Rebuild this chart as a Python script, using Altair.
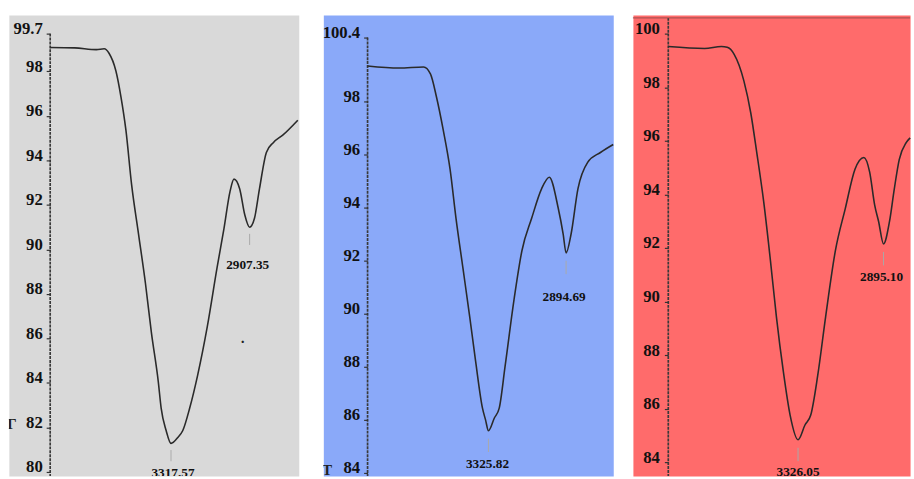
import altair as alt
import pandas as pd

# ---------------- data ----------------
# Panel 1 (grey)
p1_wavenumber = [3948, 3820, 3707, 3666, 3641, 3605, 3579, 3553, 3523, 3487, 3451, 3420,
                 3384, 3369, 3343, 3317.57, 3282, 3256, 3220, 3179, 3128, 3077, 3041, 3010,
                 2989, 2959, 2933, 2907.35, 2882, 2856, 2820, 2784, 2733, 2656]
p1_transmittance = [99.08, 99.06, 98.98, 99.02, 98.82, 98.02, 96.87, 95.37, 92.90, 90.69, 88.48, 86.27,
                    84.06, 82.87, 81.86, 81.28, 81.55, 81.86, 82.87, 84.33, 86.54, 89.19, 90.95, 92.59,
                    93.16, 92.72, 91.57, 91.00, 91.40, 92.72, 94.36, 94.80, 95.15, 95.81]
p1_ticks = [80, 82, 84, 86, 88, 90, 92, 94, 96, 98, 99.7]
p1_peak_wn = [3317.57, 2907.35]
p1_peak_tr = [81.28, 91.00]
p1_peak_labels = ["3317.57", "2907.35"]

# Panel 2 (blue)
p2_wavenumber = [3997, 3822, 3686, 3648, 3615, 3577, 3539, 3506, 3468, 3430, 3397, 3359,
                 3342, 3325.82, 3293, 3266, 3233, 3184, 3140, 3086, 3031, 2988, 2938, 2911,
                 2894.69, 2867, 2829, 2775, 2704, 2633]
p2_transmittance = [99.33, 99.25, 99.29, 99.03, 98.18, 96.92, 95.44, 93.59, 91.74, 89.89, 88.20, 86.44,
                    86.00, 85.59, 86.07, 86.44, 88.04, 90.52, 92.37, 93.59, 94.70, 95.14, 93.96, 93.00,
                    92.29, 93.00, 94.70, 95.70, 96.07, 96.37]
p2_ticks = [84, 86, 88, 90, 92, 94, 96, 98, 100.4]
p2_peak_wn = [3325.82, 2894.69]
p2_peak_tr = [85.59, 92.29]
p2_peak_labels = ["3325.82", "2894.69"]

# Panel 3 (red)
p3_wavenumber = [3980, 3797, 3712, 3683, 3648, 3599, 3564, 3534, 3499, 3465, 3435, 3400,
                 3366, 3326.05, 3291, 3262, 3227, 3187, 3138, 3088, 3039, 2994, 2965,
                 2940, 2920, 2895.10, 2865, 2841, 2816, 2781, 2761]
p3_transmittance = [99.52, 99.45, 99.52, 99.49, 99.23, 98.24, 97.03, 95.56, 93.72, 91.52, 89.43, 87.38,
                     85.76, 84.84, 85.39, 85.76, 87.23, 89.43, 91.89, 93.47, 94.94, 95.38, 94.83,
                     93.61, 92.99, 92.15, 92.99, 94.20, 95.30, 95.93, 96.11]
p3_ticks = [84, 86, 88, 90, 92, 94, 96, 98, 100]
p3_peak_wn = [3326.05, 2895.10]
p3_peak_tr = [84.84, 92.15]
p3_peak_labels = ["3326.05", "2895.10"]

# ---------------- styling ----------------
SERIF = "Liberation Serif"


def panel(wn, tr, ticks, peak_wn, peak_tr, peak_labels, xdom, ydom, axis_top,
          axis_offset, label_pad, bg, width, height, label_dy, label_dx,
          extras=None, top_border=False):
    xs = alt.Scale(domain=xdom, nice=False, zero=False)
    ys = alt.Scale(domain=ydom, nice=False, zero=False)
    yaxis = alt.Axis(values=ticks, offset=axis_offset, domain=False, grid=False,
                     tickSize=4, tickColor="#333333", tickWidth=1.2,
                     labelPadding=label_pad, labelOffset=-5,
                     labelExpr="'' + datum.value", labelFont=SERIF,
                     labelFontSize=17, labelFontWeight="bold", labelColor="#111111",
                     title=None, zindex=1)

    def X(f):
        return alt.X(f, type="quantitative", scale=xs, axis=None)

    def Y(f):
        return alt.Y(f, type="quantitative", scale=ys, axis=yaxis)

    df = pd.DataFrame({"wavenumber": wn, "transmittance": tr})
    peaks = pd.DataFrame({"wavenumber": peak_wn, "transmittance": peak_tr,
                          "label": peak_labels})

    axis_df = pd.DataFrame({"wavenumber": [wn[0]], "transmittance": [axis_top],
                            "bottom": [ydom[0]]})
    layers = []
    layers.append(alt.Chart(axis_df).mark_rule(color="#3a3a3a", strokeWidth=1.7,
                                              strokeDash=[3, 1]).encode(
        x=X("wavenumber"), y=Y("transmittance"), y2="bottom:Q"))
    if top_border:
        tb = pd.DataFrame({"wavenumber": [xdom[0]], "w2": [xdom[1]],
                           "transmittance": [axis_top]})
        layers.append(alt.Chart(tb).mark_rule(color="#9a4b4b", strokeWidth=1.2,
                                             opacity=0.8).encode(
            x=X("wavenumber"), x2="w2:Q", y=Y("transmittance")))

    layers.append(alt.Chart(df).mark_line(color="#2a2a2a", strokeWidth=1.6,
                                          interpolate="monotone").encode(
        x=X("wavenumber"), y=Y("transmittance")))

    layers.append(alt.Chart(peaks).transform_calculate(
        a="datum.transmittance - 0.3", b="datum.transmittance - 0.8"
    ).mark_rule(color="#a9a9a9", strokeWidth=1, clip=True).encode(
        x=X("wavenumber"), y=Y("a"), y2="b:Q"))

    for i in range(len(peak_labels)):
        layers.append(alt.Chart(peaks.iloc[[i]]).mark_text(
            font=SERIF, fontSize=13.5, fontWeight="bold", color="#111111",
            align="center", baseline="middle", dy=label_dy[i], dx=label_dx[i],
            clip=True).encode(x=X("wavenumber"), y=Y("transmittance"), text="label:N"))

    if extras is not None:
        layers.append(alt.Chart(extras).mark_text(
            font=SERIF, fontSize=15, fontWeight="bold", color="#222222",
            align="center", baseline="middle", clip=True).encode(
            x=X("wavenumber"), y=Y("transmittance"), text="t:N"))

    return alt.layer(*layers).properties(
        width=width, height=height,
        view=alt.ViewBackground(fill=bg, stroke="transparent"))


p1_extras = pd.DataFrame({"wavenumber": [4148, 2943], "transmittance": [82.16, 85.83],
                          "t": ["Γ", "·"]})
p2_extras = pd.DataFrame({"wavenumber": [4221], "transmittance": [84.12], "t": ["T"]})

H = 469
c1 = panel(p1_wavenumber, p1_transmittance, p1_ticks, p1_peak_wn, p1_peak_tr, p1_peak_labels,
           xdom=[4163.7, 2650.9], ydom=[79.82, 100.54], axis_top=99.7, axis_offset=-42,
           label_pad=4, bg="#d9d9d9", width=295, height=H,
           label_dy=[30, 39], label_dx=[2, -2], extras=p1_extras)
c2 = panel(p2_wavenumber, p2_transmittance, p2_ticks, p2_peak_wn, p2_peak_tr, p2_peak_labels,
           xdom=[4242.6, 2632.8], ydom=[83.89, 101.25], axis_top=100.4, axis_offset=-45,
           label_pad=4, bg="#8aa9f9", width=295, height=H,
           label_dy=[34, 45], label_dx=[-1, -2], extras=p2_extras)
c3 = panel(p3_wavenumber, p3_transmittance, p3_ticks, p3_peak_wn, p3_peak_tr, p3_peak_labels,
           xdom=[4158.2, 2761.4], ydom=[83.49, 100.70], axis_top=100.59, axis_offset=-36,
           label_pad=5, bg="#ff6b6b", width=282, height=H,
           label_dy=[33, 34], label_dx=[0, -2], top_border=True)

chart = alt.hconcat(c1, alt.hconcat(c2, c3, spacing=14), spacing=20).properties(
    padding={"left": 8, "top": 10, "right": 0, "bottom": 0},
    background="white",
)

chart.save("out.html", embed_options={"renderer": "svg", "actions": False})
